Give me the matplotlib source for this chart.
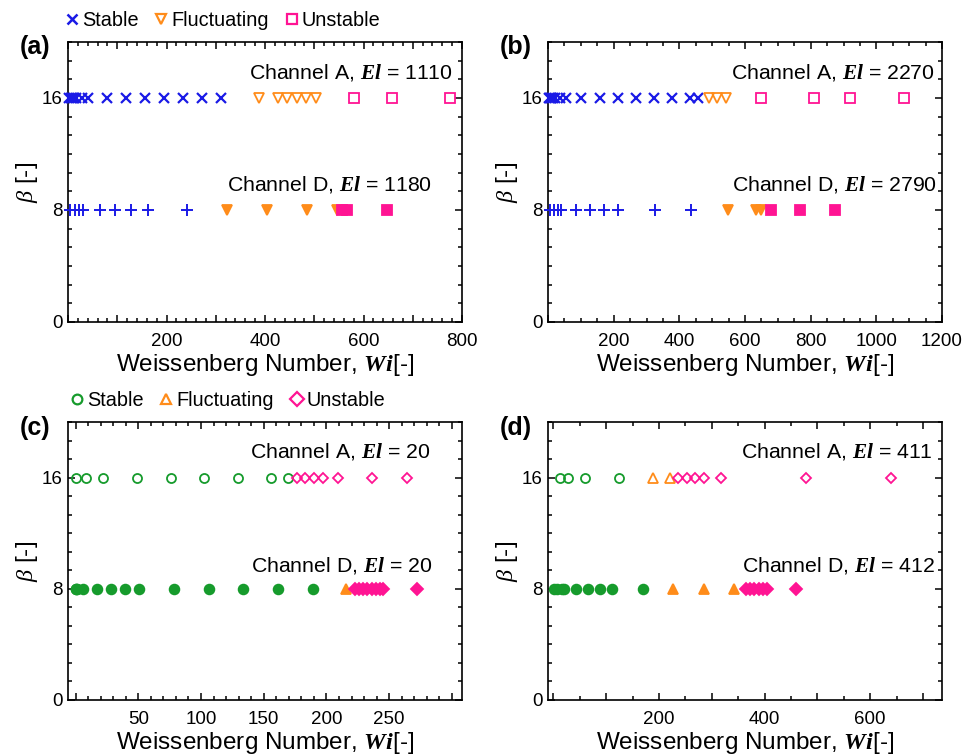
import matplotlib
matplotlib.use("Agg")
import matplotlib.pyplot as plt
from matplotlib.ticker import MultipleLocator, FuncFormatter
from matplotlib.lines import Line2D

plt.rcParams['font.family'] = ['Liberation Sans', 'DejaVu Sans']
plt.rcParams['mathtext.fontset'] = 'custom'
plt.rcParams['mathtext.bf'] = 'Liberation Serif:bold:italic'
plt.rcParams['mathtext.it'] = 'Liberation Serif:italic'
plt.rcParams['mathtext.rm'] = 'Liberation Sans'

# ---- data: Weissenberg numbers at beta = 16 (Channel A) and beta = 8 (Channel D)
beta_A = 16
beta_D = 8

# (a)
a_A_stable = [3, 6, 9, 13, 17, 28, 41, 79, 117, 157, 195, 233, 272, 311]
a_A_fluct = [388, 426, 445, 464, 484, 504]
a_A_unstable = [581, 658, 775]
a_D_stable = [5, 14, 23, 31, 64, 96, 128, 162, 242]
a_D_fluct = [323, 405, 485, 546]
a_D_unstable = [557, 567, 648]
a_El = (1110, 1180)

# (b)
b_A_stable = [3, 6, 10, 15, 20, 36, 55, 102, 158, 213, 268, 324, 379, 432, 458]
b_A_fluct = [490, 516, 541]
b_A_unstable = [648, 811, 920, 1083]
b_D_stable = [5, 17, 29, 41, 84, 127, 171, 214, 326, 437]
b_D_fluct = [547, 633, 648]
b_D_unstable = [679, 766, 875]
b_El = (2270, 2790)

# (c)
c_A_stable = [0.5, 8.4, 21.7, 48.8, 75.9, 102.4, 129.7, 155.8, 169.1]
c_A_fluct = []
c_A_unstable = [176.3, 182.9, 190.1, 197.0, 209.4, 236.5, 263.9]
c_D_stable = [0.3, 0.6, 1.0, 5.7, 17.4, 28.1, 39.4, 50.4, 78.5, 106.4, 133.5, 161.6, 189.5]
c_D_fluct = [215.6]
c_D_unstable = [222.7, 226.1, 229.3, 232.5, 236.0, 239.4, 242.6, 245.3, 272.4]
c_El = (20, 20)

# (d)
d_A_stable = [12.6, 28.6, 59.6, 124.6]
d_A_fluct = [189.6, 221.6]
d_A_unstable = [236.6, 252.6, 268.6, 284.6, 317.6, 478.6, 638.6]
d_D_stable = [1, 7.6, 15.6, 20.6, 42.6, 66.6, 88.6, 111.6, 170.6]
d_D_fluct = [227.6, 284.6, 342.6]
d_D_unstable = [365.6, 372.6, 380.6, 388.6, 396.6, 404.6, 459.6]
d_El = (411, 412)

BLUE = '#1a1ae6'
ORANGE = '#ff8c1a'
PINK = '#ff1493'
GREEN = '#169b2c'

fig = plt.figure(figsize=(9.65, 7.56), dpi=100)

W = 394 / 965
H_top = 280 / 756
H_bot = 278 / 756
ax_a = fig.add_axes([68 / 965, 1 - 322 / 756, W, H_top])
ax_b = fig.add_axes([548 / 965, 1 - 322 / 756, W, H_top])
ax_c = fig.add_axes([68 / 965, 1 - 700 / 756, W, H_bot])
ax_d = fig.add_axes([548 / 965, 1 - 700 / 756, W, H_bot])

TICK_FS = 13.5
LABEL_FS = 17.5
TEXT_FS = 15.3


def style_axis(ax, xlim, major, minor, labelled):
    ax.set_xlim(*xlim)
    ax.set_ylim(0, 20)
    ax.xaxis.set_major_locator(MultipleLocator(major))
    ax.xaxis.set_minor_locator(MultipleLocator(minor))
    ax.xaxis.set_major_formatter(FuncFormatter(
        lambda v, p: f"{int(round(v))}" if round(v) in labelled else ""))
    ax.yaxis.set_major_locator(MultipleLocator(8))
    ax.yaxis.set_minor_locator(MultipleLocator(8 / 6))
    ax.tick_params(which='both', direction='in', top=True, right=True,
                   labelsize=TICK_FS, width=1.1)
    ax.tick_params(axis='x', pad=8)
    ax.tick_params(axis='y', pad=4)
    ax.tick_params(which='major', length=5)
    ax.tick_params(which='minor', length=3)
    for s in ax.spines.values():
        s.set_linewidth(1.2)
    ax.set_xlabel(r"Weissenberg Number, $\mathbf{Wi}$[-]", fontsize=LABEL_FS, labelpad=1)
    ax.set_ylabel(r"$\beta$ [-]", fontsize=LABEL_FS, labelpad=1)


def channel_text(ax, x_ax, y, name, el):
    ax.text(x_ax, y, rf"Channel {name}, $\mathbf{{El}}$ = {el}",
            transform=ax.get_yaxis_transform(), ha='right', va='center',
            fontsize=TEXT_FS)


def row(ax, xs, y, marker, color, filled, ms, mew=1.3):
    if not xs:
        return
    ax.plot(xs, [y] * len(xs), linestyle='none', marker=marker, markersize=ms,
            markeredgecolor=color, markerfacecolor=color if filled else 'none',
            markeredgewidth=mew, clip_on=False, zorder=3)


# panel (a)
row(ax_a, a_A_stable, beta_A, 'x', BLUE, True, 7, 1.6)
row(ax_a, a_A_fluct, beta_A, 'v', ORANGE, False, 7)
row(ax_a, a_A_unstable, beta_A, 's', PINK, False, 7)
row(ax_a, a_D_stable, beta_D, '+', BLUE, True, 9, 1.4)
row(ax_a, a_D_fluct, beta_D, 'v', ORANGE, True, 7)
row(ax_a, a_D_unstable, beta_D, 's', PINK, True, 7)
style_axis(ax_a, (0, 800), 100, 20, {200, 400, 600, 800})
channel_text(ax_a, 0.977, 17.85, 'A', a_El[0])
channel_text(ax_a, 0.924, 9.8, 'D', a_El[1])

# panel (b)
row(ax_b, b_A_stable, beta_A, 'x', BLUE, True, 7, 1.6)
row(ax_b, b_A_fluct, beta_A, 'v', ORANGE, False, 7)
row(ax_b, b_A_unstable, beta_A, 's', PINK, False, 7)
row(ax_b, b_D_stable, beta_D, '+', BLUE, True, 9, 1.4)
row(ax_b, b_D_fluct, beta_D, 'v', ORANGE, True, 7)
row(ax_b, b_D_unstable, beta_D, 's', PINK, True, 7)
style_axis(ax_b, (0, 1200), 200, 50, {200, 400, 600, 800, 1000, 1200})
channel_text(ax_b, 0.982, 17.85, 'A', b_El[0])
channel_text(ax_b, 0.987, 9.8, 'D', b_El[1])

# panel (c)
row(ax_c, c_A_stable, beta_A, 'o', GREEN, False, 6.5)
row(ax_c, c_A_fluct, beta_A, '^', ORANGE, False, 7)
row(ax_c, c_A_unstable, beta_A, 'D', PINK, False, 5.5)
row(ax_c, c_D_stable, beta_D, 'o', GREEN, True, 7)
row(ax_c, c_D_fluct, beta_D, '^', ORANGE, True, 7)
row(ax_c, c_D_unstable, beta_D, 'D', PINK, True, 6)
style_axis(ax_c, (-6, 308), 50, 10, {50, 100, 150, 200, 250})
channel_text(ax_c, 0.919, 17.9, 'A', c_El[0])
channel_text(ax_c, 0.924, 9.7, 'D', c_El[1])

# panel (d)
row(ax_d, d_A_stable, beta_A, 'o', GREEN, False, 6.5)
row(ax_d, d_A_fluct, beta_A, '^', ORANGE, False, 7)
row(ax_d, d_A_unstable, beta_A, 'D', PINK, False, 5.5)
row(ax_d, d_D_stable, beta_D, 'o', GREEN, True, 7)
row(ax_d, d_D_fluct, beta_D, '^', ORANGE, True, 7)
row(ax_d, d_D_unstable, beta_D, 'D', PINK, True, 6)
style_axis(ax_d, (-10, 736), 100, 50, {200, 400, 600})
channel_text(ax_d, 0.977, 17.9, 'A', d_El[0])
channel_text(ax_d, 0.982, 9.7, 'D', d_El[1])

# panel letters
for x, y, lab in [(20, 47, '(a)'), (500, 47, '(b)'), (20, 428, '(c)'), (500, 428, '(d)')]:
    fig.text(x / 965, 1 - y / 756, lab, ha='left', va='center',
             fontsize=18, fontweight='bold')


def legend_handles(markers, colors):
    names = ['Stable', 'Fluctuating', 'Unstable']
    hs = []
    for m, c in zip(markers, colors):
        hs.append(Line2D([], [], linestyle='none', marker=m, markersize=7,
                         markeredgecolor=c, markerfacecolor='none',
                         markeredgewidth=1.8 if m == 'x' else 1.6))
    return hs, names


hs, names = legend_handles(['x', 'v', 's'], [BLUE, ORANGE, PINK])
fig.legend(hs, names, loc='center left', bbox_to_anchor=(66 / 965, 1 - 20 / 756),
           ncol=3, frameon=False, fontsize=14.3, handlelength=0.6,
           handletextpad=0.2, columnspacing=0.85, borderaxespad=0, borderpad=0)

hs, names = legend_handles(['o', '^', 'D'], [GREEN, ORANGE, PINK])
fig.legend(hs, names, loc='center left', bbox_to_anchor=(71 / 965, 1 - 400 / 756),
           ncol=3, frameon=False, fontsize=14.3, handlelength=0.6,
           handletextpad=0.2, columnspacing=0.85, borderaxespad=0, borderpad=0)

fig.savefig('out.png', dpi=100)
